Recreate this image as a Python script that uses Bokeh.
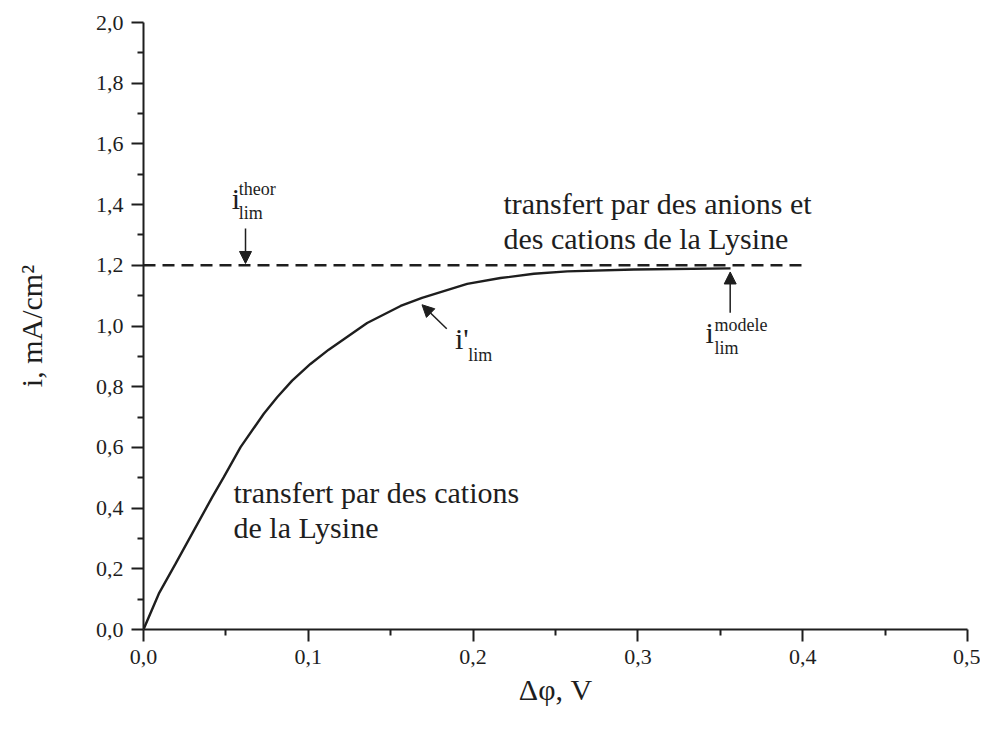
from bokeh.plotting import figure
from bokeh.models import Range1d, FixedTicker, CustomJSTickFormatter, Arrow, NormalHead, Label
from bokeh.embed import file_html
from bokeh.resources import INLINE

# curve: potential difference (V) vs current density (mA/cm2)
dphi = [0.0, 0.0093, 0.0194, 0.0305, 0.0417, 0.0487, 0.0589, 0.0730, 0.0811, 0.0902,
        0.1013, 0.1124, 0.1357, 0.156, 0.169, 0.1964, 0.2166, 0.2369, 0.2571,
        0.2975, 0.3562]
i_cur = [0.0, 0.118, 0.216, 0.326, 0.436, 0.502, 0.601, 0.711, 0.765, 0.820,
         0.875, 0.922, 1.010, 1.066, 1.093, 1.139, 1.158, 1.172, 1.180,
         1.186, 1.190]

# theoretical limiting current
lim_x = [0.0, 0.4]
lim_y = [1.2, 1.2]

x_ticks = [0.0, 0.1, 0.2, 0.3, 0.4, 0.5]
y_ticks = [0.0, 0.2, 0.4, 0.6, 0.8, 1.0, 1.2, 1.4, 1.6, 1.8, 2.0]
x_minor = [0.05, 0.15, 0.25, 0.35, 0.45]
y_minor = [0.1, 0.3, 0.5, 0.7, 0.9, 1.1, 1.3, 1.5, 1.7, 1.9]

INK = "#1e1e1e"
FONT = "Liberation Serif"

p = figure(width=980, height=725, output_backend="svg", toolbar_location=None,
           x_range=Range1d(0, 0.5), y_range=Range1d(0, 2.0),
           min_border_left=143, min_border_right=13, min_border_top=22,
           min_border_bottom=96)
p.outline_line_color = None
p.xgrid.visible = False
p.ygrid.visible = False
p.background_fill_color = "white"

fmt = CustomJSTickFormatter(code="return tick.toFixed(1).replace('.', ',');")
for ax, ticks, minor in ((p.xaxis[0], x_ticks, x_minor), (p.yaxis[0], y_ticks, y_minor)):
    ax.ticker = FixedTicker(ticks=ticks, minor_ticks=minor)
    ax.formatter = fmt
    ax.axis_line_width = 2
    ax.axis_line_color = INK
    ax.major_tick_line_width = 2
    ax.major_tick_line_color = INK
    ax.minor_tick_line_width = 2
    ax.minor_tick_line_color = INK
    ax.major_tick_in = 0
    ax.major_tick_out = 12
    ax.minor_tick_in = 0
    ax.minor_tick_out = 6
    ax.major_label_text_font = FONT
    ax.major_label_text_font_size = "22px"
    ax.major_label_text_color = INK
    ax.axis_label_text_font = FONT
    ax.axis_label_text_font_size = "30px"
    ax.axis_label_text_font_style = "normal"
    ax.axis_label_text_color = INK
    ax.major_label_standoff = 8

p.xaxis.axis_label = "Δφ, V"
p.yaxis.axis_label = "i, mA/cm²"
p.xaxis.axis_label_standoff = 6
p.yaxis.axis_label_standoff = 45

p.line(lim_x, lim_y, line_color=INK, line_width=2.4, line_dash="12 7")
p.line(dphi, i_cur, line_color=INK, line_width=2.4)

def txt(x, y, s, size, baseline="alphabetic"):
    p.add_layout(Label(x=x, y=y, text=s, text_font=FONT, text_font_size=size,
                       text_color=INK, text_align="left", text_baseline=baseline))

# region labels
txt(0.2184, 1.404, "transfert par des anions et", "30px")
txt(0.2184, 1.289, "des cations de la Lysine", "30px")
txt(0.0546, 0.451, "transfert par des cations", "30px")
txt(0.0546, 0.336, "de la Lysine", "30px")

# i_lim^theor
txt(0.0535, 1.420, "i", "30px")
txt(0.0578, 1.453, "theor", "18px", "middle")
txt(0.0578, 1.371, "lim", "18px", "middle")
# i'_lim
txt(0.189, 0.960, "i'", "30px")
txt(0.197, 0.903, "lim", "18px", "middle")
# i_lim^modele
txt(0.341, 0.980, "i", "30px")
txt(0.3465, 1.002, "modele", "18px", "middle")
txt(0.3465, 0.926, "lim", "18px", "middle")

def arrow(x0, y0, x1, y1):
    p.add_layout(Arrow(x_start=x0, y_start=y0, x_end=x1, y_end=y1,
                       line_color=INK, line_width=1.5,
                       end=NormalHead(size=12, fill_color=INK, line_color=INK)))

arrow(0.0619, 1.321, 0.0619, 1.206)
arrow(0.184, 0.991, 0.169, 1.070)
arrow(0.356, 1.044, 0.356, 1.178)

open("out.html", "w").write(file_html(p, INLINE))
